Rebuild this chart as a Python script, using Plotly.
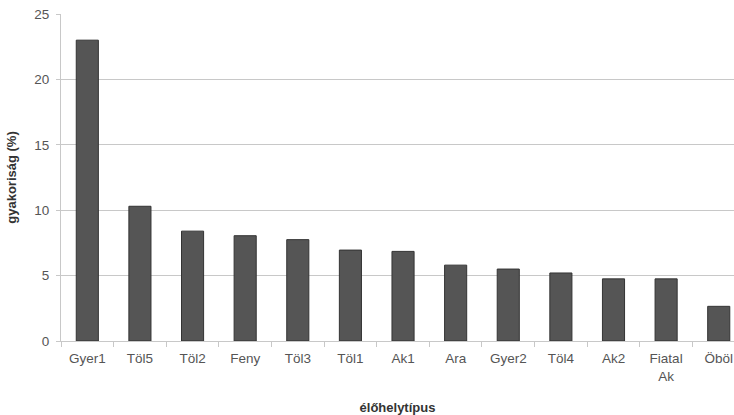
import plotly.graph_objects as go

# Habitat types and their frequency (%)
categories = ["Gyer1", "Töl5", "Töl2", "Feny", "Töl3", "Töl1", "Ak1", "Ara",
              "Gyer2", "Töl4", "Ak2", "Fiatal<br>Ak", "Öböl"]
frequency = [23.0, 10.3, 8.4, 8.05, 7.75, 6.95, 6.85, 5.8, 5.5, 5.2, 4.75, 4.75, 2.65]
y_ticks = [0, 5, 10, 15, 20, 25]

font_family = "Liberation Sans, Arial, sans-serif"

fig = go.Figure(
    go.Bar(
        x=categories,
        y=frequency,
        width=0.42,
        marker=dict(color="#555555", line=dict(color="#333333", width=1)),
    )
)

fig.update_layout(
    width=734,
    height=415,
    margin=dict(l=61, r=0, t=14, b=74),
    paper_bgcolor="white",
    plot_bgcolor="white",
    showlegend=False,
    font=dict(family=font_family, size=13, color="#555555"),
)

fig.update_xaxes(
    type="category",
    range=[-0.5, 12.29],
    tickson="boundaries",
    ticks="outside",
    ticklen=5,
    tickcolor="#c8c8c8",
    showline=True,
    linecolor="#c8c8c8",
    linewidth=1,
    showgrid=False,
    tickfont=dict(size=13.5, color="#555555"),
    ticklabelstandoff=5,
    title=dict(text="<b>élőhelytípus</b>", font=dict(size=13, color="#333333"), standoff=28),
    automargin=False,
)

fig.update_yaxes(
    range=[0, 25],
    tickvals=y_ticks,
    ticks="outside",
    ticklen=4,
    tickcolor="#c8c8c8",
    showline=True,
    linecolor="#c8c8c8",
    linewidth=1,
    showgrid=True,
    gridcolor="#c8c8c8",
    gridwidth=1,
    zeroline=False,
    tickfont=dict(size=13.5, color="#555555"),
    ticklabelstandoff=4,
    title=dict(text="<b>gyakoriság (%)</b>", font=dict(size=13, color="#333333"), standoff=14),
    automargin=False,
)

fig.write_html("out.html")
